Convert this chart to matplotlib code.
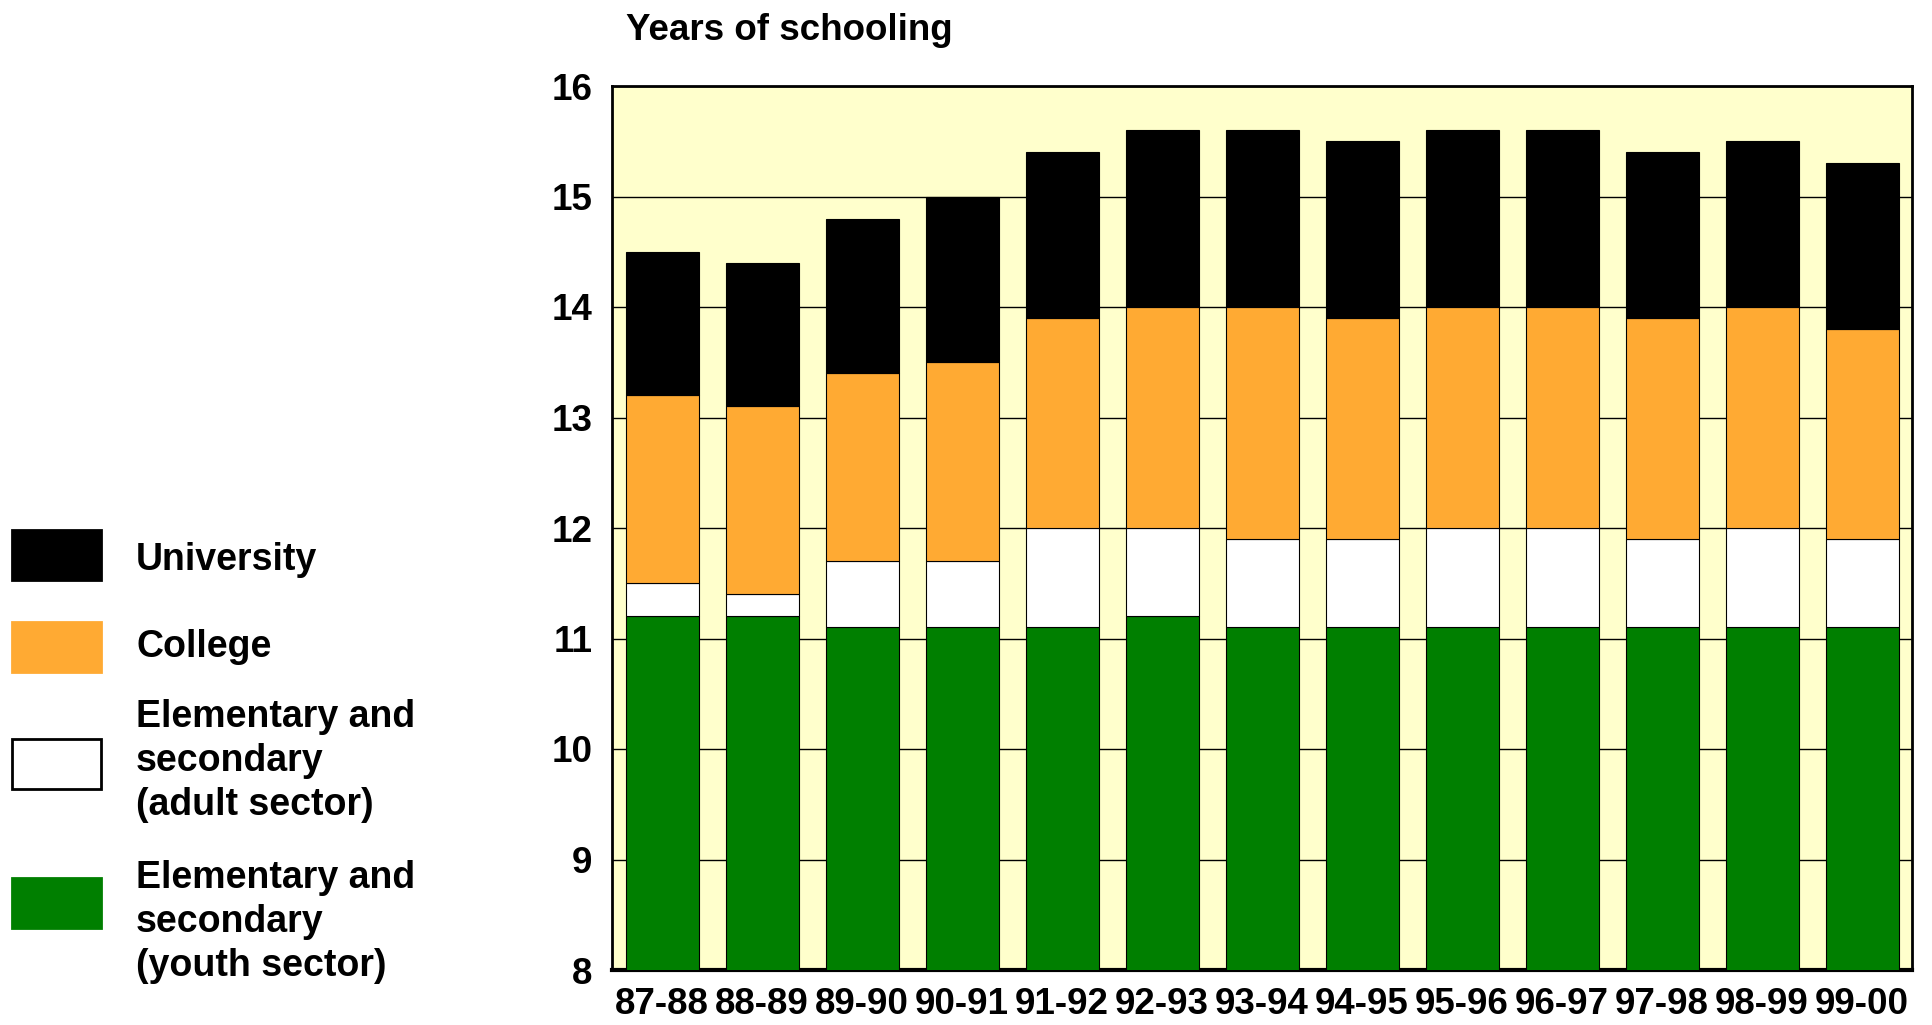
import matplotlib
matplotlib.use("Agg")
import matplotlib.pyplot as plt
import matplotlib.patches as patches
import numpy as np

plt.rcParams['font.family'] = ['Liberation Sans', 'DejaVu Sans']
plt.rcParams['font.weight'] = 'bold'

# School years and the years of schooling by level (segment heights)
years = ['87-88', '88-89', '89-90', '90-91', '91-92', '92-93', '93-94',
         '94-95', '95-96', '96-97', '97-98', '98-99', '99-00']
youth = [11.2, 11.2, 11.1, 11.1, 11.1, 11.2, 11.1, 11.1, 11.1, 11.1, 11.1, 11.1, 11.1]
adult = [0.3, 0.2, 0.6, 0.6, 0.9, 0.8, 0.8, 0.8, 0.9, 0.9, 0.8, 0.9, 0.8]
college = [1.7, 1.7, 1.7, 1.8, 1.9, 2.0, 2.1, 2.0, 2.0, 2.0, 2.0, 2.0, 1.9]
university = [1.3, 1.3, 1.4, 1.5, 1.5, 1.6, 1.6, 1.6, 1.6, 1.6, 1.5, 1.5, 1.5]

series = [youth, adult, college, university]
colors = ['#007f00', '#ffffff', '#ffaa33', '#000000']
legend_labels = ['University', 'College',
                 'Elementary and\nsecondary\n(adult sector)',
                 'Elementary and\nsecondary\n(youth sector)']

W, H = 1932, 1025
fig = plt.figure(figsize=(W / 100, H / 100), dpi=100)
ax = fig.add_axes([612 / W, 55 / H, 1300 / W, 884 / H])
ax.set_facecolor('#ffffcc')

x = np.arange(len(years))
bottom = np.zeros(len(years))
for vals, col in zip(series, colors):
    ax.bar(x, vals, bottom=bottom, width=0.73, color=col,
           edgecolor='black', linewidth=0.8, zorder=3)
    bottom += np.array(vals)

ax.set_ylim(8, 16)
ax.set_xlim(-0.5, 12.5)
ax.set_yticks(range(8, 17))
ax.set_xticks(x)
ax.set_xticklabels(years)
ax.tick_params(axis='both', length=0, labelsize=26.5)
ax.tick_params(axis='x', pad=12)
ax.tick_params(axis='y', pad=14)
for lbl in ax.get_xticklabels() + ax.get_yticklabels():
    lbl.set_fontweight('bold')
ax.yaxis.grid(True, color='black', linewidth=1.0, zorder=0)
ax.set_axisbelow(True)
for s in ax.spines.values():
    s.set_linewidth(2)
    s.set_color('black')
ax.spines['bottom'].set_linewidth(3)

fig.text(626 / W, 1 - 30 / H, 'Years of schooling', fontsize=26.5,
         fontweight='bold', va='center', ha='left')

# legend drawn by hand on the left side
legend_colors = ['#000000', '#ffaa33', '#ffffff', '#007f00']
patch_centers = [555, 647, 764, 903]
text_centers = [560, 647, 761, 922]
for lab, col, pc, tc in zip(legend_labels, legend_colors, patch_centers, text_centers):
    rect = patches.Rectangle((12 / W, 1 - (pc + 25) / H), 89 / W, 50 / H,
                             transform=fig.transFigure, facecolor=col,
                             edgecolor='black' if col == '#ffffff' else col,
                             linewidth=2)
    fig.add_artist(rect)
    fig.text(136 / W, 1 - tc / H, lab, fontsize=27, fontweight='bold',
             va='center', ha='left', linespacing=1.27)

fig.savefig('out.png', dpi=100)
